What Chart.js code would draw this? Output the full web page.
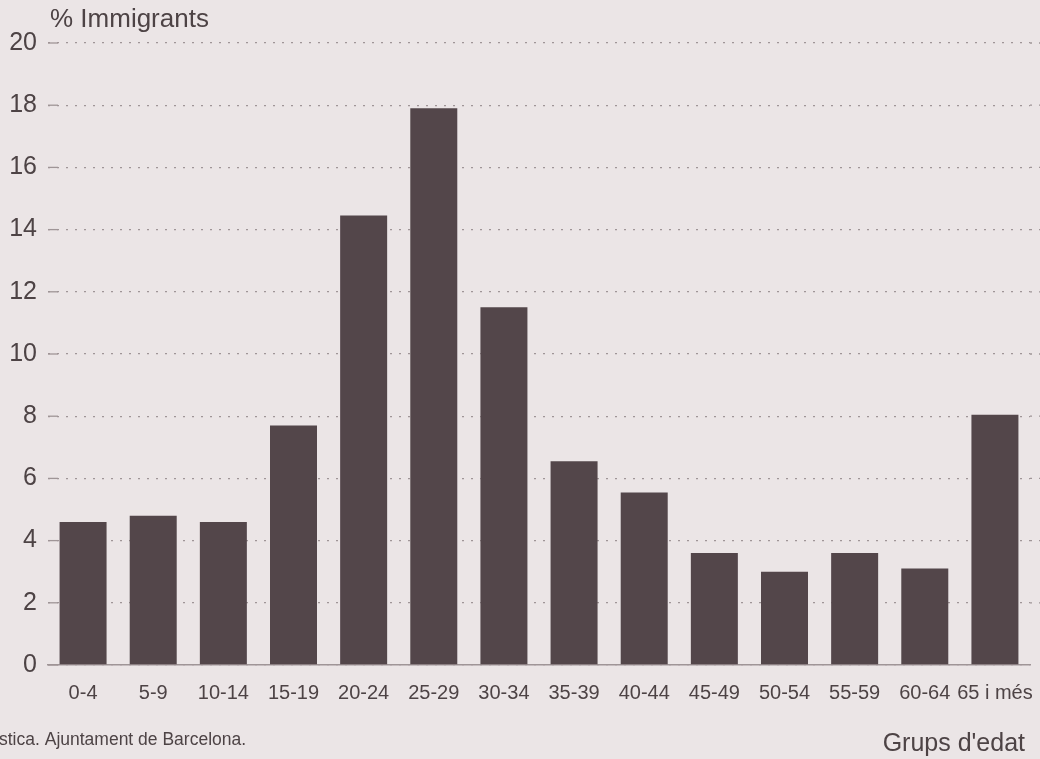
<!DOCTYPE html>
<html>
<head>
<meta charset="utf-8">
<script src="https://cdn.jsdelivr.net/npm/chart.js@4"></script>
<style>
  html, body { margin: 0; padding: 0; background: #ebe5e6; }
  #wrap { width: 1040px; height: 759px; position: relative; }
</style>
</head>
<body>
<div id="wrap"><canvas id="c" width="1040" height="759"></canvas></div>
<script>
const categories = ["0-4","5-9","10-14","15-19","20-24","25-29","30-34","35-39","40-44","45-49","50-54","55-59","60-64","65 i més"];
const immigrantsPct = [4.6, 4.8, 4.6, 7.7, 14.45, 17.9, 11.5, 6.55, 5.55, 3.6, 3.0, 3.6, 3.1, 8.05];
const yTicks = [0, 2, 4, 6, 8, 10, 12, 14, 16, 18, 20];
const yTitle = "% Immigrants";
const xTitle = "Grups d'edat";
const sourceNote = "stica. Ajuntament de Barcelona.";

const FONT = "'Liberation Sans', Arial, Helvetica, sans-serif";
const TEXT = "#4d4345";
const GRID = "#9f9597";
const DOTS = [2, 7];

const decor = {
  id: 'decor',
  beforeDatasetsDraw(chart) {
    const ctx = chart.ctx, a = chart.chartArea, y = chart.scales.y;
    ctx.save();
    yTicks.forEach(v => {
      const py = y.getPixelForValue(v);
      ctx.strokeStyle = GRID;
      ctx.lineWidth = 1.3;
      ctx.setLineDash([]);
      ctx.beginPath();
      ctx.moveTo(a.left, py);
      ctx.lineTo(a.left + 10, py);
      ctx.stroke();
      if (v > 0) {
        ctx.setLineDash(DOTS);
        ctx.beginPath();
        ctx.moveTo(a.right, py);
        ctx.lineTo(chart.width, py);
        ctx.stroke();
      }
    });
    ctx.restore();
  },
  afterDraw(chart) {
    const ctx = chart.ctx;
    ctx.save();
    ctx.fillStyle = TEXT;
    ctx.textBaseline = 'alphabetic';
    ctx.textAlign = 'left';
    ctx.font = "26px " + FONT;
    ctx.fillText(yTitle, 50, 27);
    ctx.textAlign = 'right';
    ctx.font = "25px " + FONT;
    ctx.fillText(xTitle, 1025, 751);
    ctx.textAlign = 'left';
    ctx.font = "17.5px " + FONT;
    ctx.fillText(sourceNote, -1, 745);
    ctx.restore();
  }
};

new Chart(document.getElementById('c'), {
  type: 'bar',
  data: {
    labels: categories,
    datasets: [{
      data: immigrantsPct,
      backgroundColor: '#53464a',
      borderWidth: 0,
      categoryPercentage: 1,
      barPercentage: 0.67
    }]
  },
  options: {
    responsive: false,
    animation: false,
    devicePixelRatio: 1,
    layout: { padding: { top: 43, right: 10, left: 0, bottom: 54 } },
    plugins: { legend: { display: false }, tooltip: { enabled: false }, title: { display: false } },
    scales: {
      x: {
        offset: true,
        grid: { display: false, drawTicks: false },
        border: { display: true, color: GRID, width: 1.5 },
        ticks: {
          autoSkip: false, maxRotation: 0, minRotation: 0,
          color: TEXT, font: { family: FONT, size: 20 }, padding: 16
        },
        afterFit(s) { s.height = 40; s.paddingLeft = 0; s.paddingRight = 0; }
      },
      y: {
        min: 0, max: 20,
        afterBuildTicks(s) { s.ticks = yTicks.map(v => ({ value: v })); },
        grid: {
          color: GRID, lineWidth: 1.3, drawTicks: false
        },
        border: { display: false, dash: DOTS },
        ticks: {
          color: TEXT, font: { family: FONT, size: 25 }, padding: 11,
          callback: v => String(v)
        },
        afterFit(s) { s.width = 48; s.paddingTop = 0; s.paddingBottom = 0; }
      }
    }
  },
  plugins: [decor]
});
</script>
</body>
</html>
